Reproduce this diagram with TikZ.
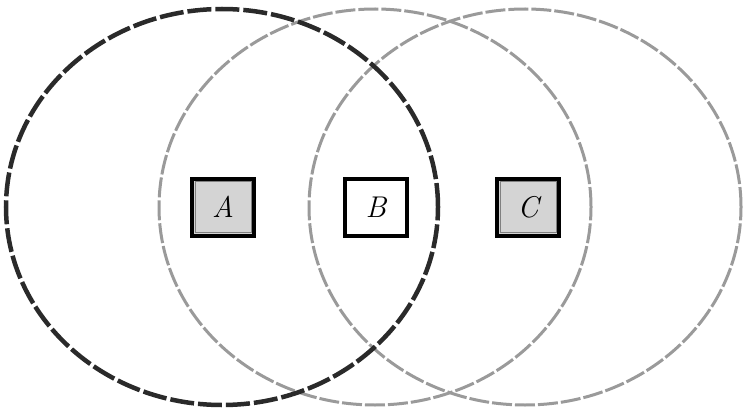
\documentclass[tikz,border=0pt]{standalone}
\usepackage{fontspec}
\usetikzlibrary{shapes.geometric}
\definecolor{ringdark}{HTML}{2A2A2A}
\definecolor{ringgray}{HTML}{9A9A9A}
\definecolor{boxfill}{HTML}{D4D4D4}
\begin{document}
\begin{tikzpicture}[x=1pt,y=-1pt,
  ring/.style={ellipse, inner sep=0pt, minimum width=432pt, minimum height=396pt},
  darkring/.style={ring, draw=ringdark, line width=4.5pt, dash pattern=on 24pt off 4pt},
  grayring/.style={ring, draw=ringgray, line width=3pt, dash pattern=on 20pt off 3pt},
  setbox/.style={rectangle, draw=black, line width=4pt, minimum width=62pt, minimum height=57pt, inner sep=0pt, font=\fontsize{30}{34}\selectfont\itshape},
  filledbox/.style={setbox, fill=boxfill},
  innerline/.style={draw=gray, line width=0.8pt}
]
\useasboundingbox (0,0) rectangle (743,414);
\node[grayring] (M) at (375,207) {};
\node[grayring] (R) at (525,207) {};
\node[darkring] (L) at (222,207) {};
\node[filledbox] (A) at (223,207) {A};
\node[setbox, fill=white] (B) at (376,207) {B};
\node[filledbox] (C) at (528,207) {C};
\foreach \n in {A,C}
  \draw[innerline] ([xshift=5pt,yshift=-5pt]\n.north west) rectangle ([xshift=-5pt,yshift=5pt]\n.south east);
\end{tikzpicture}
\end{document}
